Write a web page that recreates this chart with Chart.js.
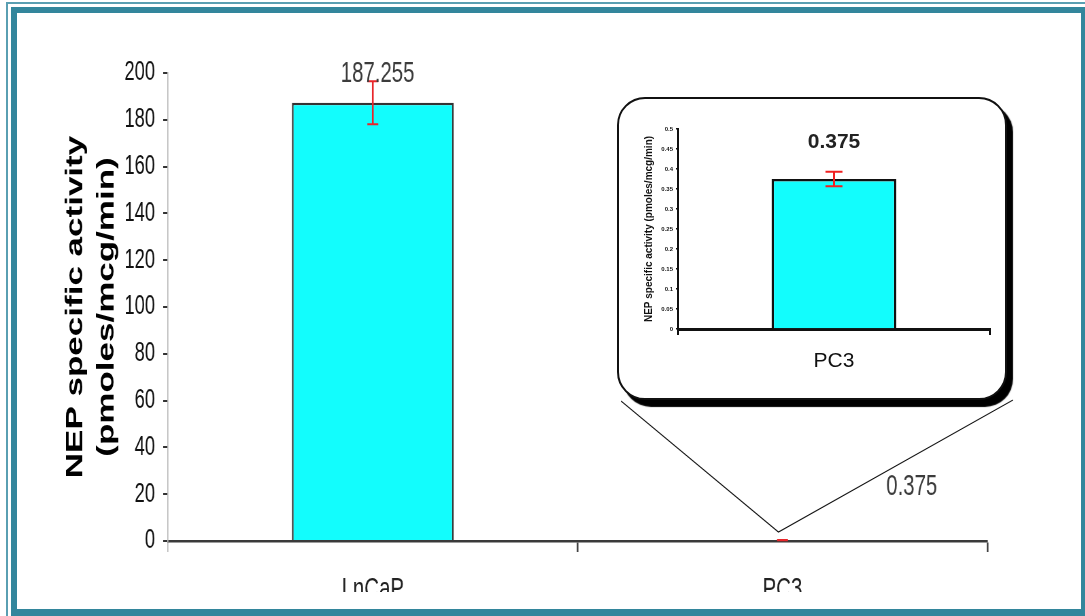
<!DOCTYPE html>
<html>
<head>
<meta charset="utf-8">
<script src="https://cdn.jsdelivr.net/npm/chart.js@4.4.1/dist/chart.umd.min.js"></script>
<style>
  body { margin: 0; width: 1085px; height: 616px; overflow: hidden; background: #fff; position: relative; }
  #frame-thin { position: absolute; left: 6px; top: 2px; right: 0; bottom: 0; border-left: 2px solid #5a9fb2; border-top: 2px solid #5a9fb2; }
  #frame { position: absolute; left: 11px; top: 7px; width: 1074px; height: 609px; box-sizing: border-box;
           border-style: solid; border-color: #33869c; border-width: 6px 4px 7px 6px; }
  /* the main plot is laid out wide and squeezed horizontally */
  #main-wrap { position: absolute; left: 17px; top: 13px; width: 1565px; height: 579px; overflow: hidden;
               transform: scaleX(0.68); transform-origin: 0 0; }
  #inset { position: absolute; left: 617px; top: 97px; width: 386px; height: 299px; background: #fff;
           border: 2px solid #111; border-radius: 28px; box-shadow: 6px 7px 1px #000; }
  #inset canvas { position: absolute; left: 0; top: 0; }
</style>
</head>
<body>
<div id="frame-thin"></div>
<div id="frame"></div>
<div id="main-wrap"><canvas id="nepChart"></canvas></div>
<div id="inset"><canvas id="insetChart" width="386" height="299"></canvas></div>

<script>
// NEP activity per cell line
const cellLines = ['LnCaP', 'PC3'];
const nepActivity = [187.255, 0.375];
const nepError = [9.2, 0.018];

// zoomed view of PC3
const insetLines = ['PC3'];
const insetActivity = [0.375];
const insetError = [0.018];

const yMax = 200, yStep = 20;
const insetMax = 0.5, insetStep = 0.05;

const SX = 0.68;                       // horizontal squeeze of #main-wrap
const FONT = "'Liberation Sans', Arial, sans-serif";
const BOX = { x: 617, y: 97, w: 390, h: 303 };

// red error bars drawn on top of each bar
const errorBars = {
  id: 'errorBars',
  afterDatasetsDraw(chart, args, opts) {
    const { ctx, scales: { y } } = chart;
    const values = chart.data.datasets[0].data;
    ctx.save();
    ctx.strokeStyle = opts.color;
    chart.getDatasetMeta(0).data.forEach((bar, i) => {
      const top = y.getPixelForValue(values[i] + opts.errors[i]);
      const bot = y.getPixelForValue(values[i] - opts.errors[i]);
      ctx.lineWidth = opts.stem;
      ctx.beginPath();
      ctx.moveTo(bar.x, top);
      ctx.lineTo(bar.x, bot);
      ctx.stroke();
      ctx.lineWidth = opts.capWidth;
      ctx.beginPath();
      ctx.moveTo(bar.x - opts.cap, top); ctx.lineTo(bar.x + opts.cap, top);
      ctx.moveTo(bar.x - opts.cap, bot); ctx.lineTo(bar.x + opts.cap, bot);
      ctx.stroke();
    });
    ctx.restore();
  }
};

// value labels, each with its own offset from the bar top
const valueLabels = {
  id: 'valueLabels',
  afterDatasetsDraw(chart, args, opts) {
    const ctx = chart.ctx;
    const values = chart.data.datasets[0].data;
    ctx.save();
    ctx.font = opts.font;
    ctx.fillStyle = opts.color;
    ctx.textAlign = 'center';
    ctx.textBaseline = 'middle';
    chart.getDatasetMeta(0).data.forEach((bar, i) => {
      const off = opts.offsets[i];
      ctx.fillText(values[i].toFixed(3), bar.x + off.dx, bar.y + off.dy);
    });
    ctx.restore();
  }
};

// lines from the inset box corners down to the PC3 bar
const zoomLines = {
  id: 'zoomLines',
  afterDraw(chart) {
    const ctx = chart.ctx;
    const bar = chart.getDatasetMeta(0).data[1];
    const toX = px => (px - 17) / SX;
    const toY = py => py - 13;
    const vx = bar.x - 6, vy = bar.y - 8;
    ctx.save();
    ctx.strokeStyle = '#111';
    ctx.lineWidth = 1.3;
    ctx.beginPath();
    ctx.moveTo(toX(BOX.x + 4), toY(BOX.y + BOX.h + 1));
    ctx.lineTo(vx, vy);
    ctx.lineTo(toX(BOX.x + BOX.w + 6), toY(BOX.y + BOX.h));
    ctx.stroke();
    ctx.restore();
  }
};

new Chart(document.getElementById('nepChart'), {
  type: 'bar',
  data: {
    labels: cellLines,
    datasets: [{
      data: nepActivity,
      backgroundColor: '#12fdfd',
      borderColor: '#333',
      borderWidth: 2.5,
      borderSkipped: 'bottom',
      barPercentage: 0.395,
      categoryPercentage: 1
    }]
  },
  options: {
    responsive: true,
    maintainAspectRatio: false,
    animation: false,
    layout: { padding: { top: 60, right: 138, left: 0, bottom: 0 } },
    scales: {
      x: {
        afterFit: s => { s.height = 51; },
        grid: {
          drawOnChartArea: false,
          offset: true,
          tickLength: 11,
          lineWidth: c => c.index === 0 ? 1.6 : 2.6,
          color: c => c.index === 0 ? '#bbb' : '#444'
        },
        border: { color: '#3a3a3a', width: 2.5 },
        ticks: { color: '#222', padding: 20, font: { family: FONT, size: 30 } }
      },
      y: {
        min: 0, max: yMax,
        afterFit: s => { s.width = 222; },
        grid: { drawOnChartArea: false, tickLength: 7, color: '#333', lineWidth: 2 },
        border: { color: '#bbb', width: 1.6 },
        ticks: { stepSize: yStep, color: '#111', padding: 12, font: { family: FONT, size: 27 } },
        title: {
          display: true,
          text: ['NEP specific activity', '(pmoles/mcg/min)'],
          color: '#000',
          padding: { top: 64, bottom: 0 },
          font: { family: FONT, size: 35, weight: 'bold', lineHeight: 1.3 }
        }
      }
    },
    plugins: {
      legend: { display: false },
      tooltip: { enabled: false },
      errorBars: { errors: nepError, color: '#e8262a', stem: 2.6, capWidth: 2, cap: 8 },
      valueLabels: {
        font: `30px ${FONT}`, color: '#3c3c3c',
        offsets: [{ dx: 7, dy: -29 }, { dx: 190, dy: -53 }]
      }
    }
  },
  plugins: [zoomLines, errorBars, valueLabels]
});

new Chart(document.getElementById('insetChart'), {
  type: 'bar',
  data: {
    labels: insetLines,
    datasets: [{
      data: insetActivity,
      backgroundColor: '#12fdfd',
      borderColor: '#111',
      borderWidth: 2.5,
      borderSkipped: 'bottom',
      barPercentage: 0.4,
      categoryPercentage: 1
    }]
  },
  options: {
    responsive: false,
    animation: false,
    layout: { padding: { top: 30, right: 15, left: 0, bottom: 0 } },
    scales: {
      x: {
        afterFit: s => { s.height = 69; },
        grid: { drawOnChartArea: false, offset: true, tickLength: 6, color: '#111', lineWidth: 2 },
        border: { color: '#111', width: 3 },
        ticks: { color: '#111', padding: 14, font: { family: FONT, size: 21 } }
      },
      y: {
        min: 0, max: insetMax,
        afterFit: s => { s.width = 59; },
        grid: { drawOnChartArea: false, tickLength: 2, color: '#111', lineWidth: 1.5 },
        border: { color: '#111', width: 2 },
        ticks: {
          stepSize: insetStep, color: '#111', padding: 3,
          font: { family: FONT, size: 6, weight: 'bold' },
          callback: v => +v.toFixed(2)
        },
        title: {
          display: true,
          text: 'NEP specific activity (pmoles/mcg/min)',
          color: '#111',
          padding: { top: 24, bottom: 0 },
          font: { family: FONT, size: 10, weight: 'bold' }
        }
      }
    },
    plugins: {
      legend: { display: false },
      tooltip: { enabled: false },
      errorBars: { errors: insetError, color: '#f02020', stem: 2, capWidth: 2, cap: 8.5 },
      valueLabels: {
        font: `bold 21px ${FONT}`, color: '#222',
        offsets: [{ dx: 0, dy: -37 }]
      }
    }
  },
  plugins: [errorBars, valueLabels]
});
</script>
</body>
</html>
